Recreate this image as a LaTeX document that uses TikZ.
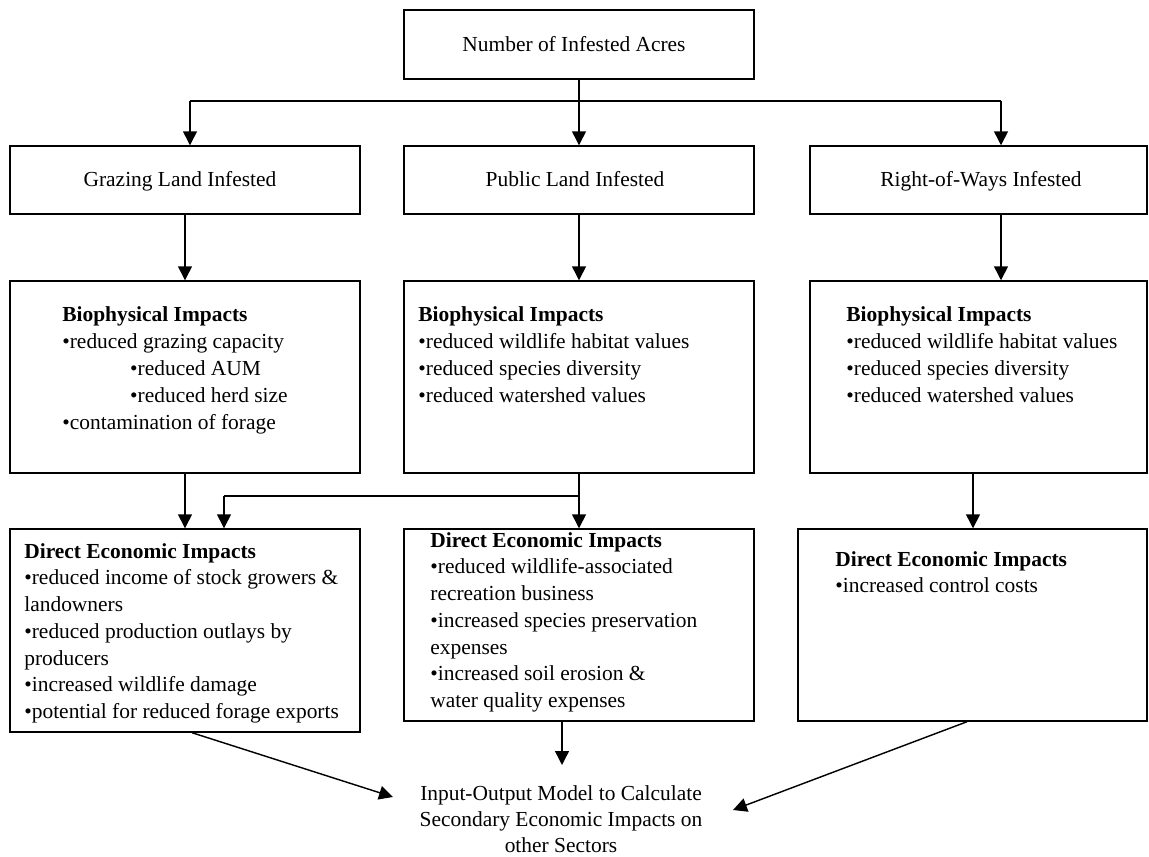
\documentclass[tikz,border=0pt]{standalone}
\usepackage{fontspec}
\setmainfont{Liberation Serif}
\usetikzlibrary{arrows.meta,fit}
\newcommand\linesL[1]{\begin{tabular}[t]{@{}l@{}}#1\end{tabular}}
\newcommand\linesC[1]{\begin{tabular}[t]{@{}c@{}}#1\end{tabular}}
\newcommand\subb{\hspace*{38pt}}
\begin{document}
\begin{tikzpicture}[x=0.56pt,y=-0.56pt,
  font=\fontsize{12}{15}\selectfont,
  box/.style={draw, line width=0.8pt, rectangle, inner sep=0pt},
  txt/.style={anchor=base west, inner sep=0pt},
  ctxt/.style={anchor=base, inner sep=0pt},
  arr/.style={line width=0.8pt, -{Triangle[width=7.8pt,length=7.8pt]}},
  ln/.style={line width=0.8pt}]
\useasboundingbox (0,0) rectangle (1149,857);

% row 1
\node[box, fit={(404,10)(754,79)}] (top) {};
\node[ctxt] (topt) at (574,52) {Number of Infested Acres};
% row 2
\node[box, fit={(10,146)(360,214)}] (graz) {};
\node[box, fit={(404,146)(754,214)}] (pub) {};
\node[box, fit={(810,146)(1147,214)}] (row) {};
\node[ctxt] (grazt) at (180,187) {Grazing Land Infested};
\node[ctxt] (pubt) at (575,187) {Public Land Infested};
\node[ctxt] (rowt) at (981,187) {Right-of-Ways Infested};
% row 3
\node[box, fit={(10,281)(360,473)}] (bioL) {};
\node[box, fit={(404,281)(754,473)}] (bioM) {};
\node[box, fit={(810,281)(1147,473)}] (bioR) {};
\node[txt] (bioLt) at (62,322) {\linesL{\textbf{Biophysical Impacts}\\
  •reduced grazing capacity\\
  \subb•reduced AUM\\
  \subb•reduced herd size\\
  •contamination of forage}};
\node[txt] (bioMt) at (418,322) {\linesL{\textbf{Biophysical Impacts}\\
  •reduced wildlife habitat values\\
  •reduced species diversity\\
  •reduced watershed values}};
\node[txt] (bioRt) at (846,322) {\linesL{\textbf{Biophysical Impacts}\\
  •reduced wildlife habitat values\\
  •reduced species diversity\\
  •reduced watershed values}};
% row 4
\node[box, fit={(10,529)(360,732)}] (deiL) {};
\node[box, fit={(404,529)(754,721)}] (deiM) {};
\node[box, fit={(798,529)(1147,721)}] (deiR) {};
\node[txt] (deiLt) at (24,558) {\linesL{\textbf{Direct Economic Impacts}\\
  •reduced income of stock growers \&\\
  landowners\\
  •reduced production outlays by\\
  producers\\
  •increased wildlife damage\\
  •potential for reduced forage exports}};
\node[txt] (deiMt) at (430,547) {\linesL{\textbf{Direct Economic Impacts}\\
  •reduced wildlife-associated\\
  recreation business\\
  •increased species preservation\\
  expenses\\
  •increased soil erosion \&\\
  water quality expenses}};
\node[txt] (deiRt) at (835,566) {\linesL{\textbf{Direct Economic Impacts}\\
  •increased control costs}};
% bottom
\node[ctxt, font=\fontsize{12}{14.6}\selectfont] (io) at (561,800) {\linesC{Input-Output Model to Calculate\\
  Secondary Economic Impacts on\\ other Sectors}};

% connectors
\coordinate (j1) at (579,101);
\coordinate (jL) at (190,101);
\coordinate (jR) at (1001,101);
\draw[ln] (top.south) -- (j1);
\draw[ln] (jL) -- (jR);
\draw[arr] (j1) -- (pub.north);
\draw[arr] (jL) -- (jL |- graz.north);
\draw[arr] (jR) -- (jR |- row.north);

\draw[arr] (graz.south) -- (graz.south |- bioL.north);
\draw[arr] (pub.south) -- (bioM.north);
\draw[arr] (jR |- row.south) -- (jR |- bioR.north);

\coordinate (b1) at (579,496);
\coordinate (b2) at (224,496);
\coordinate (xr) at (973,0);
\draw[arr] (bioL.south) -- (bioL.south |- deiL.north);
\draw[arr] (bioM.south) -- (bioM.south |- deiM.north);
\draw[ln] (b1) -- (b2);
\draw[arr] (b2) -- (b2 |- deiL.north);
\draw[arr] (xr |- bioR.south) -- (xr |- deiR.north);

\coordinate (xm) at (562,0);
\coordinate (xl) at (192,0);
\coordinate (xk) at (967,0);
\coordinate (ioT) at (562,765);
\coordinate (ioL) at (393,797);
\coordinate (ioR) at (733,810);
\draw[arr] (xm |- deiM.south) -- (ioT);
\draw[arr] (xl |- deiL.south) -- (ioL);
\draw[arr] (xk |- deiR.south) -- (ioR);
\end{tikzpicture}
\end{document}
